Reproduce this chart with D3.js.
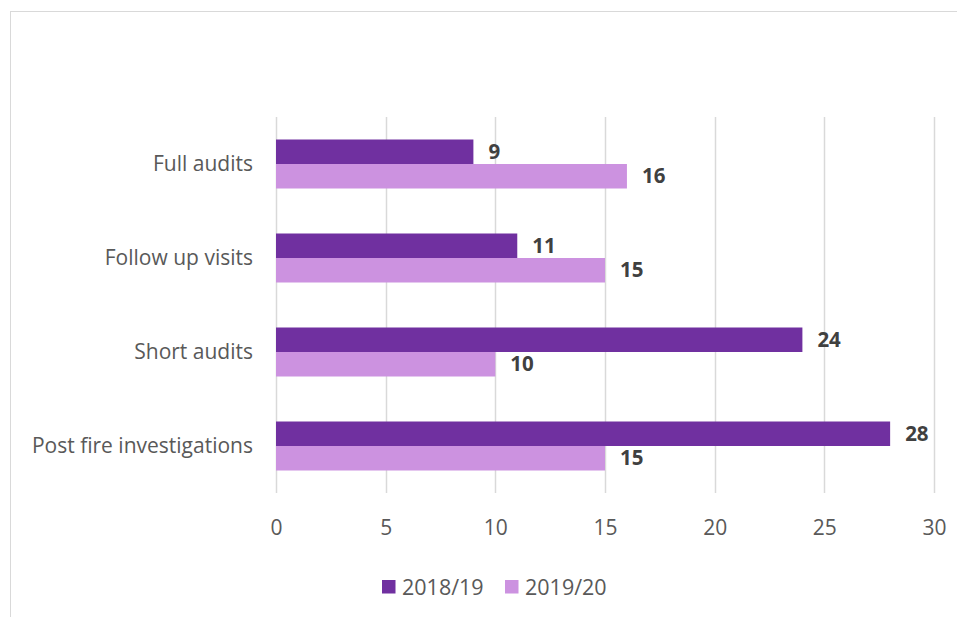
<!DOCTYPE html>
<html>
<head>
<meta charset="utf-8">
<script src="https://cdn.jsdelivr.net/npm/d3@7"></script>
<style>
  html, body { margin: 0; padding: 0; background: #fff; }
  svg { display: block; }
  text { font-family: "Open Sans", Lato, sans-serif; }
</style>
</head>
<body>
<svg id="chart" width="957" height="617"></svg>
<script>
// Inspection activity by type, two reporting years
const categories = ["Full audits", "Follow up visits", "Short audits", "Post fire investigations"];
const seriesNames = ["2018/19", "2019/20"];
const values2018 = [9, 11, 24, 28];
const values2019 = [16, 15, 10, 15];
const xTicks = [0, 5, 10, 15, 20, 25, 30];
const colors = ["#7030a0", "#cc92e0"];

const rows = categories.map((c, i) => ({ category: c, values: [values2018[i], values2019[i]] }));

const svg = d3.select("#chart");
const W = 957, H = 617;
const FONT = "'Open Sans', Lato, sans-serif";

// Outer chart frame
svg.append("rect")
  .attr("x", 10.5).attr("y", 11.5)
  .attr("width", W - 10).attr("height", H)
  .attr("fill", "#fff").attr("stroke", "#d9d9d9").attr("stroke-width", 1);

const plot = { left: 276, right: 934, top: 117, bottom: 493 };

const x = d3.scaleLinear().domain([0, 30]).range([plot.left, plot.right]);
const y = d3.scaleBand().domain(categories).range([plot.top, plot.bottom]).paddingInner(0).paddingOuter(0);
const inner = d3.scaleBand().domain(seriesNames).range([0, 49]).padding(0);

// Vertical gridlines
svg.append("g")
  .selectAll("line")
  .data(xTicks)
  .join("line")
  .attr("x1", d => Math.round(x(d)) + 0.5)
  .attr("x2", d => Math.round(x(d)) + 0.5)
  .attr("y1", plot.top).attr("y2", plot.bottom)
  .attr("stroke", "#d9d9d9").attr("stroke-width", 1.5);

// X axis tick labels
const xAxis = d3.axisBottom(x).tickValues(xTicks).tickSize(0).tickPadding(0);
const gx = svg.append("g").attr("transform", `translate(0, ${plot.bottom + 35})`).call(xAxis);
gx.select(".domain").remove();
gx.selectAll("text")
  .attr("font-size", 21).attr("fill", "#595959")
  .attr("dy", "0.35em").attr("y", 0)
  .style("font-family", FONT);

// Category labels
const yAxis = d3.axisLeft(y).tickSize(0).tickPadding(0);
const gy = svg.append("g").attr("transform", `translate(${plot.left - 23}, 0)`).call(yAxis);
gy.select(".domain").remove();
gy.selectAll("text")
  .attr("font-size", 21).attr("fill", "#595959")
  .attr("dy", "0.35em")
  .style("font-family", FONT);

// Bars
const groups = svg.append("g")
  .selectAll("g")
  .data(rows)
  .join("g")
  .attr("transform", d => `translate(0, ${y(d.category) + (y.bandwidth() - 49) / 2})`);

groups.selectAll("rect")
  .data(d => d.values.map((v, i) => ({ v, s: seriesNames[i], i })))
  .join("rect")
  .attr("x", x(0))
  .attr("y", d => inner(d.s))
  .attr("width", d => x(d.v) - x(0))
  .attr("height", inner.bandwidth())
  .attr("fill", d => colors[d.i]);

// Value labels
groups.selectAll("text")
  .data(d => d.values.map((v, i) => ({ v, s: seriesNames[i], i })))
  .join("text")
  .attr("x", d => x(d.v) + 15)
  .attr("y", d => inner(d.s) + inner.bandwidth() / 2)
  .attr("dy", "0.35em")
  .attr("font-size", 20.5).attr("font-weight", "bold")
  .attr("fill", "#404040")
  .text(d => d.v);

// Legend
const legendX = [382, 505];
const legend = svg.append("g")
  .selectAll("g")
  .data(seriesNames)
  .join("g")
  .attr("transform", (d, i) => `translate(${legendX[i]}, 580)`);
legend.append("rect")
  .attr("width", 13.5).attr("height", 13.5)
  .attr("fill", (d, i) => colors[i]);
legend.append("text")
  .attr("x", 20).attr("y", 7).attr("dy", "0.35em")
  .attr("font-size", 21.5).attr("fill", "#595959")
  .text(d => d);
</script>
</body>
</html>
